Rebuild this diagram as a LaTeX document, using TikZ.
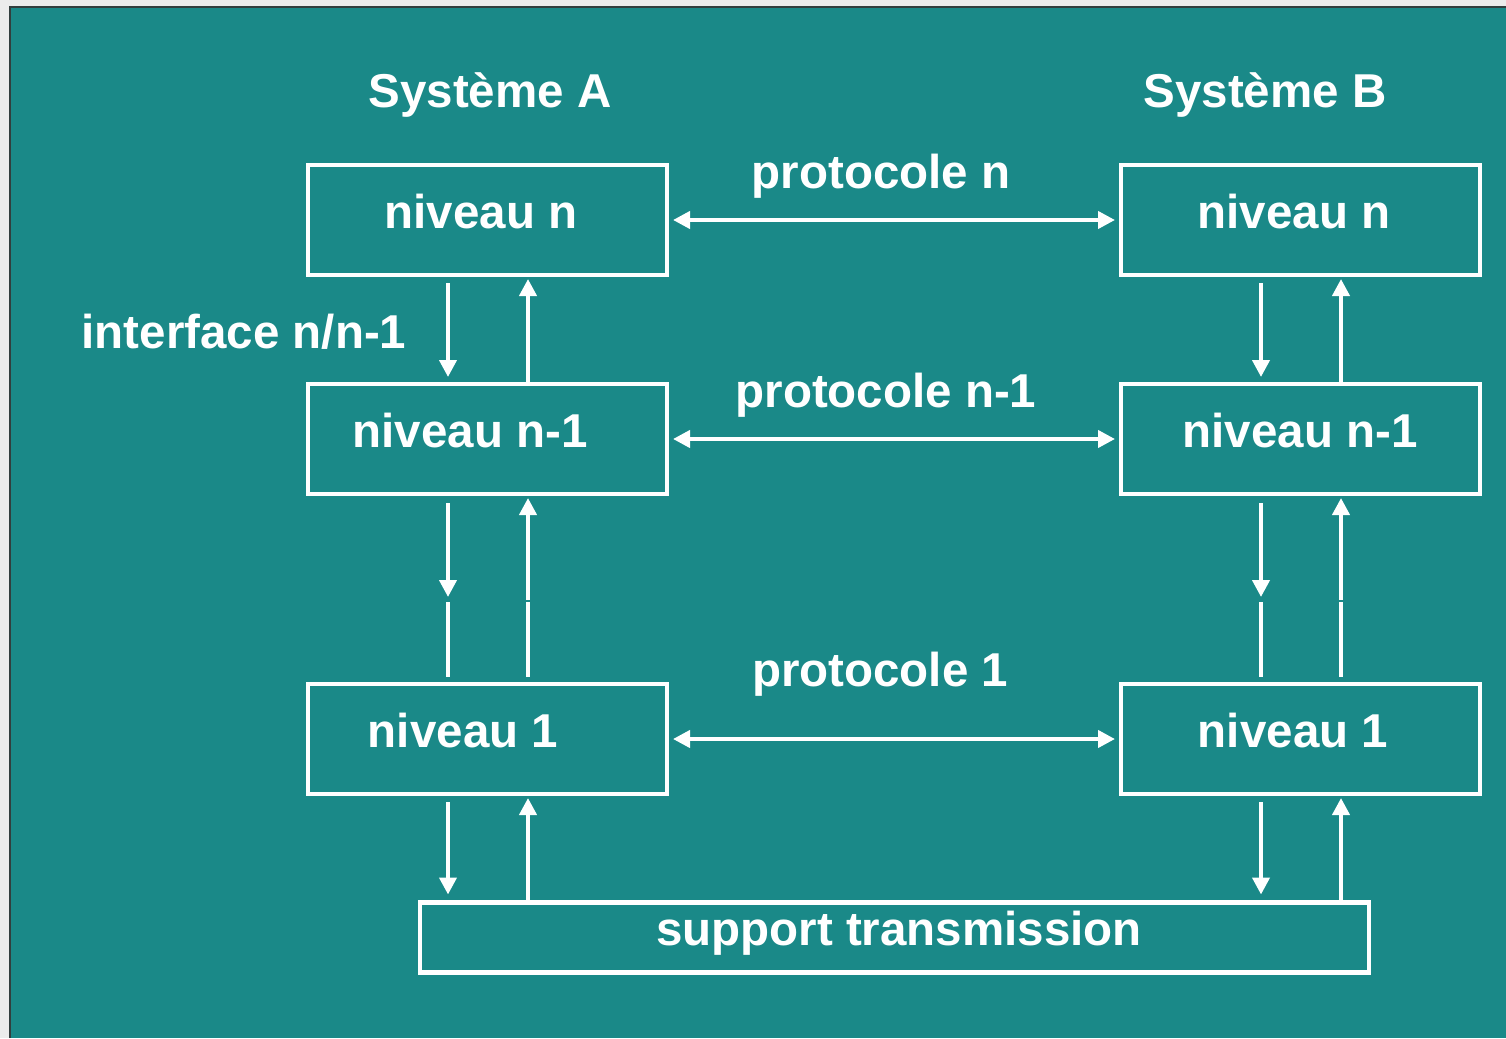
\documentclass[tikz,border=0pt]{standalone}
\usepackage{fontspec}
\setmainfont{Liberation Sans}
\usetikzlibrary{arrows.meta,calc}
\definecolor{teal1}{RGB}{26,137,136}
\definecolor{pagegray}{RGB}{236,236,236}
\definecolor{edgegray}{RGB}{50,62,62}
\tikzset{
  box/.style={draw=white, line width=4.5pt, inner sep=0pt, outer sep=0pt},
  lbl/.style={text=white, font=\bfseries\fontsize{47.5}{56}\selectfont, anchor=base, inner sep=0pt},
  arr/.style={draw=white, line width=4pt, -{Triangle[length=17pt,width=17pt]}},
  darr/.style={draw=white, line width=4pt, {Triangle[length=17pt,width=17pt]}-{Triangle[length=17pt,width=17pt]}},
  seg/.style={draw=white, line width=4pt},
}
\begin{document}
\begin{tikzpicture}[x=1pt,y=-1pt]
\useasboundingbox (0,0) rectangle (1506,1038);
\fill[pagegray] (0,0) rectangle (1506,1038);
\fill[teal1] (10,7) rectangle (1506,1038);
\draw[edgegray, line width=2pt] (10,1038) -- (10,7) -- (1506,7);

% boxes
\node[box, minimum width=359pt, minimum height=110pt] (An) at (487.5,220) {};
\node[box, minimum width=359pt, minimum height=110pt] (Am) at (487.5,439) {};
\node[box, minimum width=359pt, minimum height=110pt] (A1) at (487.5,739) {};
\node[box, minimum width=359pt, minimum height=110pt] (Bn) at (1300.5,220) {};
\node[box, minimum width=359pt, minimum height=110pt] (Bm) at (1300.5,439) {};
\node[box, minimum width=359pt, minimum height=110pt] (B1) at (1300.5,739) {};
\node[box, minimum width=949pt, minimum height=70pt] (S) at (894.5,937.5) {};

% texts
\node[lbl] (tA) at (490,107) {Système A};
\node[lbl] (tB) at (1265,107) {Système B};
\node[lbl] (tAn) at (481,228) {niveau n};
\node[lbl] (tAm) at (470,447) {niveau n-1};
\node[lbl] (tA1) at (463,747) {niveau 1};
\node[lbl] (tBn) at (1294,228) {niveau n};
\node[lbl] (tBm) at (1300,447) {niveau n-1};
\node[lbl] (tB1) at (1293,747) {niveau 1};
\node[lbl] (pn) at (881,188) {protocole n};
\node[lbl] (pm) at (886,407) {protocole n-1};
\node[lbl] (p1) at (880,686) {protocole 1};
\node[lbl] (itf) at (244,348) {interface n/n-1};
\node[lbl] (tS) at (899,945) {support transmission};

% horizontal protocol arrows
\draw[darr] ($(An.east)+(6,0)$) -- ($(Bn.west)+(-6,0)$);
\draw[darr] ($(Am.east)+(6,0)$) -- ($(Bm.west)+(-6,0)$);
\draw[darr] ($(A1.east)+(6,0)$) -- ($(B1.west)+(-6,0)$);

% vertical arrows, both systems
\foreach \t/\m/\o in {An/Am/A1, Bn/Bm/B1}{
  % n <-> n-1
  \draw[arr] ($(\t.south)+(-39.5,8)$) -- ($(\m.north)+(-39.5,-7)$);
  \draw[arr] ($(\m.north)+(40.5,0)$) -- ($(\t.south)+(40.5,4)$);
  % n-1 <-> 1 (broken lines)
  \draw[arr] ($(\m.south)+(-39.5,9)$) -- ($(\o.north)+(-39.5,-87)$);
  \draw[seg] ($(\o.north)+(-39.5,-82)$) -- ($(\o.north)+(-39.5,-7)$);
  \draw[seg] ($(\o.north)+(40.5,-7)$) -- ($(\o.north)+(40.5,-82)$);
  \draw[arr] ($(\o.north)+(40.5,-84)$) -- ($(\m.south)+(40.5,4)$);
}
% 1 <-> support
\draw[arr] ($(A1.south)+(-39.5,8)$) -- ($(S.north)+(-446.5,-8)$);
\draw[arr] ($(S.north)+(-366.5,0)$) -- ($(A1.south)+(40.5,4)$);
\draw[arr] ($(B1.south)+(-39.5,8)$) -- ($(S.north)+(366.5,-8)$);
\draw[arr] ($(S.north)+(446.5,0)$) -- ($(B1.south)+(40.5,4)$);
\end{tikzpicture}
\end{document}
